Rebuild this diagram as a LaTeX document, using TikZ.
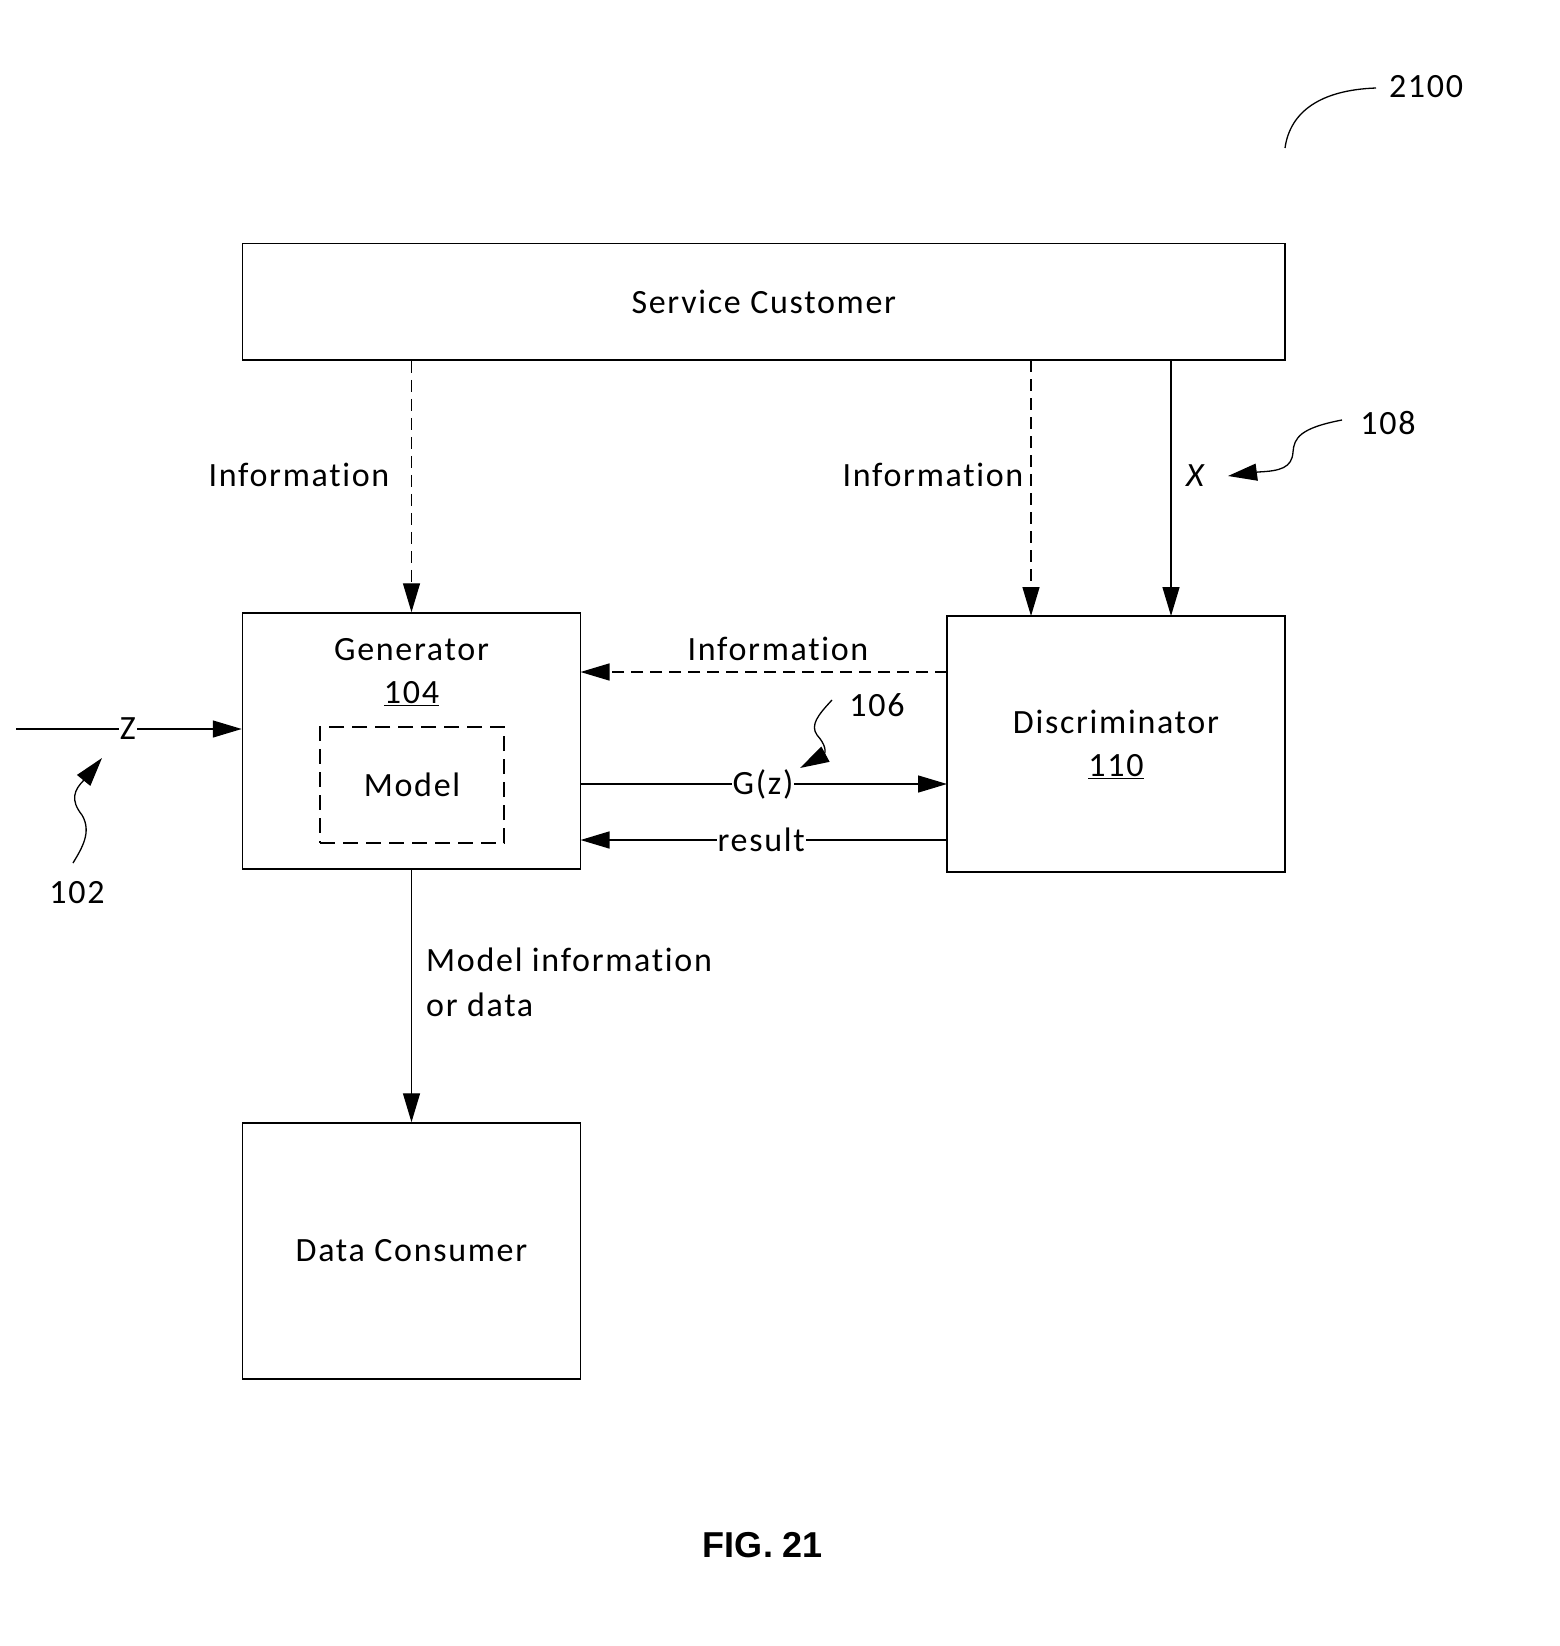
\documentclass[tikz,border=0pt]{standalone}
\usepackage{fontspec}
\setmainfont{Carlito}[LetterSpace=5, Ligatures={NoCommon}]
\newfontfamily\figfont{Liberation Sans}
\usetikzlibrary{arrows.meta}
\begin{document}
\begin{tikzpicture}[x=1pt,y=-1pt,
  every node/.style={font=\fontsize{34pt}{45pt}\selectfont, inner sep=0pt},
  box/.style={draw, line width=1.5pt, inner sep=0pt},
  mbox/.style={draw, line width=1.5pt, dash pattern=on 15pt off 8pt, inner sep=0pt},
  conn/.style={line width=1.4pt, -{Triangle[length=29pt,width=17pt]}},
  dconn/.style={conn, dash pattern=on 12pt off 7pt},
  lead/.style={line width=1.3pt},
  leadarr/.style={line width=1.3pt, -{Triangle[length=29pt,width=17pt]}},
  onl/.style={fill=white, inner xsep=1pt, inner ysep=3pt}]
\useasboundingbox (0,0) rectangle (1560,1646);

% boxes
\node[box, minimum width=1042.5pt, minimum height=116.5pt] (sc) at (763.75,301.75) {};
\node (sctext) at (763.75,301.75) {Service Customer};
\node[box, minimum width=338pt, minimum height=256pt] (gen) at (411.5,741) {};
\node (gentext) at (411.5,650) {Generator};
\node (gennum) at (411.5,694) {\underline{104}};
\node[mbox, minimum width=184pt, minimum height=116pt] (model) at (412,785) {};
\node (modeltext) at (412,785) {Model};
\node[box, minimum width=338pt, minimum height=256pt] (disc) at (1116,744) {};
\node (disctext) at (1116,722) {Discriminator};
\node (discnum) at (1116,767) {\underline{110}};
\node[box, minimum width=338pt, minimum height=256pt] (dc) at (411.5,1251) {};
\node (dctext) at (411.5,1251) {Data Consumer};

% coordinates
\coordinate (zin) at (16,729);
\coordinate (scA) at (1031,360);
\coordinate (discA) at (1031,616);
\coordinate (scB) at (1171,360);
\coordinate (discB) at (1171,616);
\coordinate (discI) at (947,672);
\coordinate (genI) at (580.5,672);
\coordinate (genG) at (580.5,784);
\coordinate (discG) at (947,784);
\coordinate (discR) at (947,840);
\coordinate (genR) at (580.5,840);

% connectors
\draw[dconn] (sc.south -| gen.north) -- (gen.north);
\draw[dconn] (scA) -- (discA);
\draw[conn] (scB) -- (discB);
\draw[dconn] (discI) -- (genI);
\draw[conn] (zin) -- node[onl, pos=0.495] (zlbl) {Z} (gen.west |- zin);
\draw[conn] (genG) -- node[onl, pos=0.498] (glbl) {G(z)} (discG);
\draw[conn] (discR) -- node[onl, pos=0.507] (rlbl) {result} (genR);
\draw[conn] (gen.south) -- (dc.north);

% labels
\node (info1) at (299,475) {Information};
\node (info2) at (933,475) {Information};
\node (info3) at (778,649) {Information};
\node (xlbl) at (1195,476) {\itshape X};
\node[anchor=west, align=left] (mi) at (426,982) {Model information\\or data};

% reference numerals
\node (n2100) at (1426,87) {2100};
\node (n108) at (1388,423) {108};
\node (n106) at (877,705) {106};
\node (n102) at (77,893) {102};
\coordinate (c2100) at (1376,88);
\coordinate (e2100) at (1285,148);
\draw[lead] (c2100) .. controls (1320,90) and (1290,112) .. (e2100);
\coordinate (c108) at (1342,420);
\coordinate (t108) at (1228,476);
\draw[leadarr] (c108) .. controls (1300,428) and (1294,438) .. (1293,452)
  .. controls (1292,468) and (1280,471) .. (1258,472) -- (t108);
\coordinate (c106) at (832,700);
\coordinate (t106) at (800,768);
\draw[leadarr] (c106) .. controls (818,715) and (810,725) .. (817,735)
  .. controls (826,745) and (826,752) .. (824,755) -- (t106);
\coordinate (c102) at (73,863);
\coordinate (t102) at (102,758);
\draw[leadarr] (c102) .. controls (82,848) and (92,832) .. (82,815)
  .. controls (70,800) and (74,790) .. (84,780) -- (t102);

\node (fig) at (763,1545) {\figfont\bfseries\fontsize{36pt}{40pt}\selectfont FIG. 21};
\end{tikzpicture}
\end{document}
